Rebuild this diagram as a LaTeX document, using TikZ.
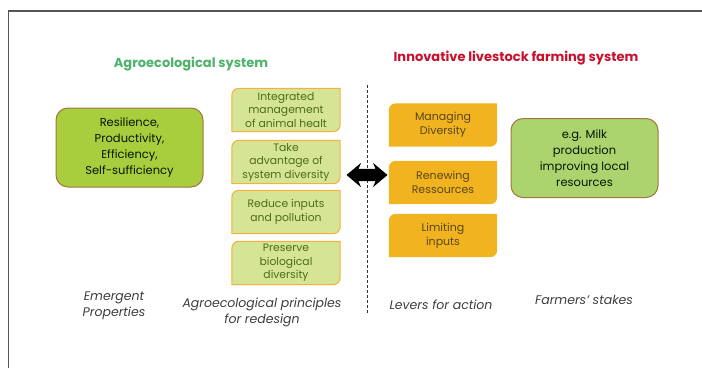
\documentclass[tikz,border=0pt]{standalone}
\usepackage{fontspec}
\setmainfont{Poppins}
\usepackage{tikz}
\usetikzlibrary{positioning,arrows.meta,shapes.arrows,backgrounds}
\usepackage{xcolor}
\definecolor{agrogreen}{RGB}{77,178,106}
\definecolor{livered}{RGB}{200,16,46}
\definecolor{emfill}{RGB}{168,206,62}
\definecolor{stfill}{RGB}{172,212,110}
\definecolor{boxline}{RGB}{160,120,60}
\definecolor{prfill}{RGB}{214,228,150}
\definecolor{prline}{RGB}{245,176,60}
\definecolor{prtext}{RGB}{75,110,20}
\definecolor{lvfill}{RGB}{241,180,32}
\definecolor{lvtext}{RGB}{90,70,20}
\definecolor{captext}{RGB}{60,60,60}
\definecolor{frameln}{RGB}{85,85,85}

% leaf: rounded top-left and bottom-right corners only
\newcommand{\leafshape}[2][]{%
  \path[#1] ([yshift=-7pt]#2.north west) arc[start angle=180,end angle=90,radius=7pt]
    -| ([yshift=7pt]#2.south east) arc[start angle=0,end angle=-90,radius=7pt]
    -- (#2.south west) -- cycle;}

\begin{document}
\begin{tikzpicture}[x=1pt,y=1pt,
  title/.style={font=\fontsize{13}{15}\selectfont\bfseries},
  bigbox/.style={draw=boxline,line width=1pt,rounded corners=12pt,align=center,
    minimum width=147pt,minimum height=79pt,text=black!75!green!40!black,
    font=\fontsize{11.5}{16}\selectfont},
  prin/.style={minimum width=108pt,minimum height=43pt,align=center,
    inner sep=0pt,text=prtext,font=\fontsize{10.8}{13.5}\selectfont},
  lever/.style={prin,text=lvtext,font=\fontsize{11}{14}\selectfont},
  caption/.style={align=center,text=captext,font=\fontsize{12.5}{16}\selectfont\itshape}]
\useasboundingbox (0,0) rectangle (702,368);
\draw[frameln,line width=1.3pt] (8.5,0) -- (8.5,357) -- (702,357);

\node[title,text=agrogreen] (agro) at (191,304) {Agroecological system};
\node[title,text=livered] (live) at (516,310) {Innovative livestock farming system};

\coordinate (dtop) at (367,283);
\coordinate (dbot) at (367,55);
\draw[black!80,line width=0.8pt,dash pattern=on 3pt off 2pt] (dtop) -- (dbot);

\node[bigbox,fill=emfill] (emerg) at (129.5,220.5) {Resilience,\\Productivity,\\Efficiency,\\Self-sufficiency};
\node[bigbox,fill=stfill] (stake) at (584.5,210) {e.g. Milk\\production\\improving local\\resources};

\node[prin] (p1) at (286,258) {Integrated\\management\\of animal healt};
\node[prin] (p2) at (286,206) {Take\\advantage of\\system diversity};
\node[prin] (p3) at (286,156) {Reduce inputs\\and pollution};
\node[prin] (p4) at (286,105) {Preserve\\biological\\diversity};

\node[lever] (l1) at (443,243) {Managing\\Diversity};
\node[lever] (l2) at (443,185.5) {Renewing\\Ressources};
\node[lever] (l3) at (443,132.5) {Limiting\\inputs};

\begin{scope}[on background layer]
\foreach \n in {p1,p2,p3,p4} {\leafshape[fill=prfill,draw=prline,line width=1pt]{\n}}
\foreach \n in {l1,l2,l3} {\leafshape[fill=lvfill]{\n}}
\end{scope}

\node[double arrow,fill=black,minimum height=41pt,minimum width=23pt,inner xsep=0pt,
  inner ysep=6pt,double arrow head extend=6pt,double arrow tip angle=80,
  double arrow head indent=2.5pt] (link) at (367,193) {};

\node[caption] (cemerg) at (114,62.5) {Emergent\\Properties};
\node[caption] (cprin) at (262,56) {Agroecological principles\\for redesign};
\node[caption] (clever) at (441,63) {Levers for action};
\node[caption] (cstake) at (584,68) {Farmers' stakes};
\end{tikzpicture}
\end{document}
